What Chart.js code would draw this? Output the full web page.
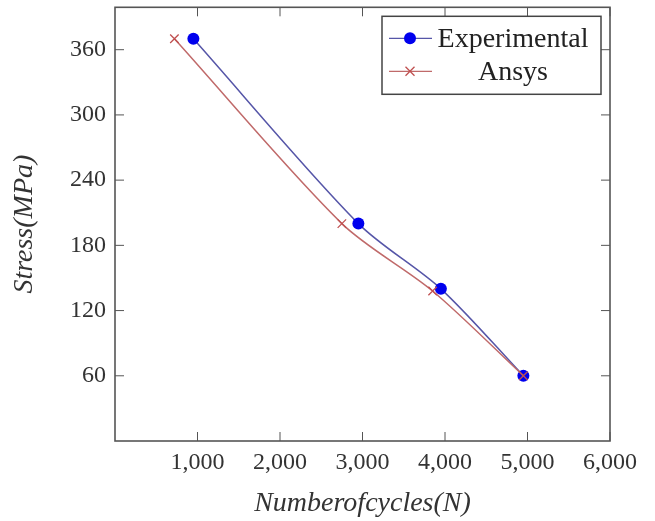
<!DOCTYPE html>
<html>
<head>
<meta charset="utf-8">
<script src="https://cdn.jsdelivr.net/npm/chart.js@4/dist/chart.umd.min.js"></script>
<style>
  html, body { margin: 0; padding: 0; background: #fff; }
  #wrap { width: 655px; height: 521px; }
</style>
</head>
<body>
<div id="wrap"><canvas id="chart"></canvas></div>
<script>
// values
const seriesNames = ['Experimental', 'Ansys'];
const expCycles = [950, 2950, 3950, 4950];
const expStress = [370, 200, 140, 60];
const ansysCycles = [720, 2750, 3850, 4950];
const ansysStress = [370, 200, 138, 60];
const xTicks = [1000, 2000, 3000, 4000, 5000, 6000];
const yTicks = [60, 120, 180, 240, 300, 360];

const serif = "'Liberation Serif', 'DejaVu Serif', serif";
const frameColor = '#555';

function toPoints(xs, ys) { return xs.map((x, i) => ({ x: x, y: ys[i] })); }

// pgfplots style frame with inward ticks on all four sides
const framePlugin = {
  id: 'frame',
  afterDatasetsDraw(chart) {
    const { ctx, chartArea: a } = chart;
    const xs = chart.scales.x, ys = chart.scales.y;
    const len = 9;
    ctx.save();
    ctx.strokeStyle = frameColor;
    ctx.lineWidth = 1;
    xTicks.forEach(v => {
      const px = xs.getPixelForValue(v);
      ctx.beginPath();
      ctx.moveTo(px, a.bottom); ctx.lineTo(px, a.bottom - len);
      ctx.moveTo(px, a.top); ctx.lineTo(px, a.top + len);
      ctx.stroke();
    });
    yTicks.forEach(v => {
      const py = ys.getPixelForValue(v);
      ctx.beginPath();
      ctx.moveTo(a.left, py); ctx.lineTo(a.left + len, py);
      ctx.moveTo(a.right, py); ctx.lineTo(a.right - len, py);
      ctx.stroke();
    });
    ctx.lineWidth = 1.6;
    ctx.strokeRect(a.left, a.top, a.right - a.left, a.bottom - a.top);
    ctx.restore();
  }
};

// boxed legend in the north east corner
const legendPlugin = {
  id: 'boxLegend',
  afterDraw(chart) {
    const { ctx, chartArea: a } = chart;
    const w = 219, h = 78;
    const x0 = a.right - 9 - w, y0 = a.top + 9;
    ctx.save();
    ctx.fillStyle = '#fff';
    ctx.fillRect(x0, y0, w, h);
    ctx.strokeStyle = '#444';
    ctx.lineWidth = 1.5;
    ctx.strokeRect(x0, y0, w, h);
    const rows = [y0 + 22, y0 + 55];
    chart.data.datasets.forEach((ds, i) => {
      const y = rows[i];
      ctx.strokeStyle = ds.borderColor;
      ctx.lineWidth = 1.3;
      ctx.beginPath();
      ctx.moveTo(x0 + 7, y); ctx.lineTo(x0 + 50, y);
      ctx.stroke();
      const mx = x0 + 28;
      if (ds.pointStyle === 'circle') {
        ctx.fillStyle = ds.pointBackgroundColor;
        ctx.beginPath();
        ctx.arc(mx, y, ds.pointRadius, 0, Math.PI * 2);
        ctx.fill();
      } else {
        const r = ds.pointRadius * 0.75;
        ctx.strokeStyle = ds.pointBorderColor;
        ctx.lineWidth = ds.pointBorderWidth;
        ctx.beginPath();
        ctx.moveTo(mx - r, y - r); ctx.lineTo(mx + r, y + r);
        ctx.moveTo(mx - r, y + r); ctx.lineTo(mx + r, y - r);
        ctx.stroke();
      }
      ctx.fillStyle = '#222';
      ctx.font = '28px ' + serif;
      ctx.textAlign = 'center';
      ctx.textBaseline = 'middle';
      ctx.fillText(seriesNames[i], x0 + 131, y + 1);
    });
    ctx.restore();
  }
};

new Chart(document.getElementById('chart'), {
  type: 'line',
  data: {
    datasets: [
      {
        label: seriesNames[0],
        data: toPoints(expCycles, expStress),
        borderColor: '#5656a8',
        borderWidth: 1.5,
        pointStyle: 'circle',
        pointRadius: 6,
        pointBackgroundColor: '#0000ee',
        pointBorderColor: '#0000ee',
        pointBorderWidth: 0,
        tension: 0.3,
        order: 1
      },
      {
        label: seriesNames[1],
        data: toPoints(ansysCycles, ansysStress),
        borderColor: '#c06a6a',
        borderWidth: 1.5,
        pointStyle: 'cross',
        pointRadius: 6,
        pointRotation: 45,
        pointBackgroundColor: '#c05050',
        pointBorderColor: '#c05050',
        pointBorderWidth: 1.3,
        tension: 0.3,
        order: 0
      }
    ]
  },
  options: {
    responsive: true,
    maintainAspectRatio: false,
    animation: false,
    layout: { padding: { top: 1, right: 45, left: 0, bottom: 0 } },
    plugins: { legend: { display: false }, tooltip: { enabled: false } },
    scales: {
      x: {
        type: 'linear',
        min: 0,
        max: 6000,
        afterBuildTicks: s => { s.ticks = xTicks.map(v => ({ value: v })); },
        afterFit: s => { s.height = 80; s.paddingLeft = 0; s.paddingRight = 0; },
        grid: { display: false, drawTicks: false },
        border: { display: false },
        ticks: {
          padding: 7,
          color: '#333',
          font: { family: serif, size: 24 },
          callback: v => v.toLocaleString('en-US')
        },
        title: {
          display: true,
          text: 'Numberofcycles(N)',
          color: '#333',
          padding: { bottom: 1, top: 0 },
          font: { family: serif, size: 28, style: 'italic' }
        }
      },
      y: {
        min: 0,
        max: 399,
        afterBuildTicks: s => { s.ticks = yTicks.map(v => ({ value: v })); },
        afterFit: s => { s.width = 115; s.paddingTop = 0; s.paddingBottom = 0; },
        grid: { display: false, drawTicks: false },
        border: { display: false },
        ticks: {
          padding: 9,
          color: '#333',
          font: { family: serif, size: 24 }
        },
        title: {
          display: true,
          text: 'Stress(MPa)',
          color: '#333',
          padding: { top: 8, bottom: 0 },
          font: { family: serif, size: 28, style: 'italic' }
        }
      }
    }
  },
  plugins: [framePlugin, legendPlugin]
});
</script>
</body>
</html>
